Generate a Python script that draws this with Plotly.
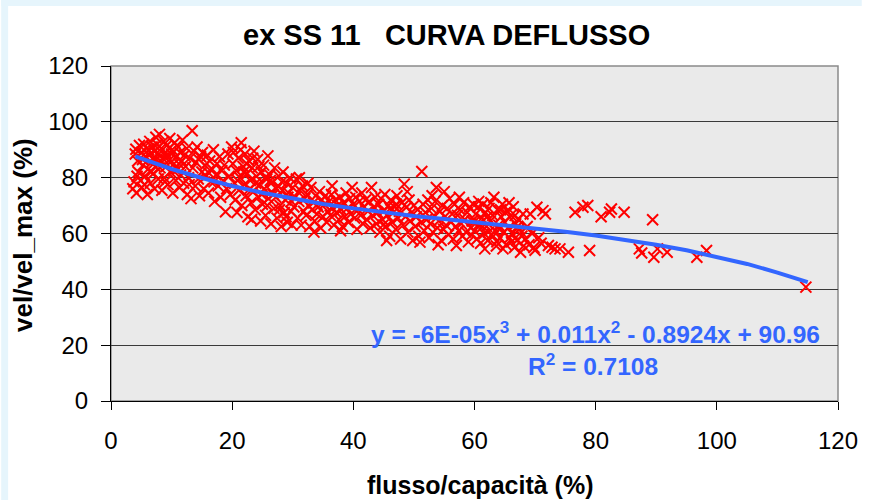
import plotly.graph_objects as go

# ---------------- data ----------------
FLOW_A = [3.6,3.8,4.0,4.1,4.2,4.4,4.5,4.7,4.9,5.0,5.1,5.3,5.4,5.6,5.7,5.9,6.0,6.1,6.3,6.4,
          6.5,6.7,6.8,7.0,7.1,7.2,7.4,7.5,7.6,7.8,7.9,8.0,8.1,8.3,8.4,8.5,8.7,8.8,9.0,9.1,
          9.2,9.4,9.5,9.7,9.8,10.0,10.1,10.2,10.4,10.5,10.7,10.8,11.0,11.1,11.3,11.4,11.5,11.7,11.8,12.0,
          4.3,5.2,6.2,6.9,7.3,8.2,8.9,9.6,10.3,11.2,12.1,6.6,7.7,9.3,5.5]
VEL_A = [76.0,78.5,88.5,90.2,74.5,86.0,82.0,91.5,79.0,89.0,76.5,84.5,92.0,80.5,87.5,90.5,74.0,83.0,88.0,93.0,
         78.0,85.5,91.0,81.5,89.5,76.0,94.5,86.5,92.0,79.5,88.5,95.5,83.5,90.5,75.5,87.0,93.0,80.0,89.0,84.0,
         91.5,77.5,86.0,94.0,82.0,88.5,90.0,74.5,85.0,92.5,79.0,87.5,83.0,91.0,76.5,89.0,81.0,86.0,93.5,78.0,
         80.5,86.5,90.0,87.0,84.0,86.0,78.5,90.5,82.5,85.0,88.0,82.0,90.5,87.5,77.5]

FLOW_B = [12.3,12.5,12.6,12.8,13.0,13.2,13.4,13.5,13.7,13.9,14.0,14.2,14.4,14.6,14.8,15.0,15.1,15.3,15.5,15.7,
          15.9,16.1,16.3,16.5,16.7,16.9,17.1,17.3,17.5,17.7,17.9,18.1,18.3,18.5,18.7,18.9,19.1,19.3,19.5,19.7,
          19.9,14.5,16.0,12.9,17.0]
VEL_B = [84.0,90.5,74.0,80.0,87.0,72.5,96.8,83.5,89.5,77.0,85.5,91.0,79.5,73.5,87.5,82.0,89.0,76.0,84.5,80.5,
         88.0,74.5,86.0,78.5,83.0,90.0,71.5,81.0,85.0,77.0,87.5,73.0,82.5,79.0,84.5,67.8,76.0,88.5,80.5,74.0,
         91.0,86.5,82.0,77.5,78.5]

FLOW_C = [20.1,20.2,20.4,20.5,20.7,20.8,21.0,21.1,21.3,21.5,21.6,21.8,22.0,22.1,22.3,22.5,22.6,22.8,23.0,23.1,
          23.3,23.5,23.6,23.8,24.0,24.2,24.3,24.5,24.7,24.8,25.0,25.2,25.3,25.5,25.7,25.9,26.0,26.2,26.4,26.5,
          26.7,26.9,27.0,27.2,27.4,27.6,27.7,27.9,28.1,28.3,28.4,28.6,28.8,29.0,29.1,29.3,29.5,29.7,29.8,30.0,
          20.9,21.9,22.9,23.9,24.9,25.8,26.8,27.8,28.9,29.9,21.4,22.4,23.4,24.4,25.4,26.3,27.3,28.2,29.2,23.2]
VEL_C = [85.0,89.0,78.0,72.0,82.5,67.5,87.0,75.5,80.0,92.5,70.0,84.0,77.5,88.5,73.5,81.5,66.0,86.0,79.0,71.0,
         83.5,75.0,89.5,68.5,80.5,86.5,73.0,77.5,64.5,82.0,70.5,84.5,76.0,66.5,79.5,87.8,72.5,81.0,63.5,75.0,
         78.5,69.0,83.5,73.0,65.5,77.0,80.5,70.0,62.5,75.5,82.0,67.5,72.0,78.0,64.0,74.5,80.0,68.0,71.5,76.5,
         79.0,82.0,76.0,78.0,74.0,70.0,74.0,68.5,66.0,63.0,90.0,85.0,87.0,84.0,80.0,79.0,76.0,78.5,73.0,65.0]

FLOW_D = [30.2,30.4,30.6,30.8,31.0,31.2,31.4,31.6,31.8,32.0,32.2,32.4,32.6,32.8,33.0,33.2,33.4,33.6,33.8,34.0,
          34.2,34.4,34.6,34.8,35.0,35.2,35.4,35.6,35.8,36.0,36.2,36.4,36.6,36.8,37.0,37.2,37.4,37.6,37.8,38.0,
          38.2,38.4,38.6,38.8,39.0,39.2,39.4,39.6,39.8,40.0,40.2,40.4,40.6,40.8,41.0,41.2,41.4,41.6,41.8,42.0,
          31.1,32.5,36.5,37.9,33.5]
VEL_D = [69.5,73.0,79.5,65.5,71.5,75.5,63.0,77.0,68.0,72.5,66.5,74.0,70.0,62.5,76.5,68.5,71.0,64.5,73.5,67.0,
         69.5,75.0,62.0,72.0,66.0,70.5,73.5,64.0,68.0,71.5,66.5,74.0,69.0,63.0,72.0,67.5,70.0,65.0,73.0,68.5,
         62.5,71.0,66.0,74.5,69.0,64.0,72.5,67.0,76.5,70.5,65.5,73.0,61.5,68.5,71.5,66.5,74.5,63.5,69.5,72.0,
         80.0,78.0,77.0,61.0,60.5]

FLOW_E = [42.2,42.4,42.6,42.8,43.0,43.2,43.4,43.6,43.8,44.0,44.2,44.4,44.6,44.8,45.0,45.2,45.4,45.6,45.8,46.0,
          46.2,46.4,46.6,46.8,47.0,47.2,47.4,47.6,47.8,48.0,48.2,48.4,48.6,48.8,49.0,49.2,49.4,49.6,49.8,50.0,
          44.9,46.1,47.1,48.9,45.5]
VEL_E = [65.0,68.0,71.5,62.0,76.5,66.5,69.5,73.0,63.5,67.5,70.5,60.5,72.5,65.0,68.0,74.0,62.5,66.5,70.0,59.0,
         72.0,64.0,67.5,69.5,61.5,73.5,65.5,68.0,58.0,71.0,63.0,77.7,66.0,69.5,60.5,72.0,64.5,67.5,57.5,70.0,
         63.0,69.0,70.5,75.0,57.5]

FLOW_F = [50.2,50.4,50.6,50.8,51.0,51.2,51.3,51.5,51.7,51.9,52.1,52.3,52.5,52.7,52.9,53.1,53.3,53.5,53.7,53.9,
          54.1,54.3,54.5,54.7,54.9,55.1,55.3,55.5,55.7,55.9,56.1,56.3,56.5,56.7,56.9,57.0,57.2,57.4,57.6,57.8,
          58.0,58.2,58.4,58.6,58.8,59.0,59.2,59.4,59.6,59.8,53.0,55.0,57.5,59.5,54.0]
VEL_F = [62.5,66.0,68.5,59.0,56.9,64.0,82.2,70.5,61.0,67.5,65.0,72.0,58.5,63.5,69.0,60.5,66.5,71.5,76.5,62.0,
         64.5,68.0,57.5,70.0,61.5,66.0,63.0,69.0,59.5,72.5,64.0,67.0,58.0,70.5,62.5,55.7,66.5,61.0,68.5,63.5,
         59.0,71.0,65.0,60.5,67.5,57.0,69.5,62.0,64.5,70.5,73.5,75.0,73.0,59.5,56.0]

FLOW_G = [60.0,60.2,60.4,60.6,60.8,61.0,61.2,61.4,61.6,61.8,62.0,62.2,62.4,62.6,62.8,63.0,63.2,63.4,63.6,63.8,
          64.0,64.2,64.4,64.6,64.8,65.0,65.2,65.4,65.6,65.8,66.0,66.2,66.4,66.6,66.8,67.0,67.2,67.4,67.6,67.8,
          68.0,60.1,61.1,62.1,63.1,64.1,65.1,66.1,67.1,68.1,60.7,61.7,62.7,63.7,64.7,65.7,66.7,67.7,62.3,64.3]
VEL_G = [61.0,67.0,58.0,69.5,63.5,56.5,65.5,70.5,60.0,67.5,62.5,57.5,69.0,64.5,59.5,66.5,73.0,61.0,55.5,68.5,
         63.0,58.5,66.0,70.5,60.5,64.0,56.0,68.0,62.0,58.5,66.5,60.0,69.6,55.0,63.5,57.5,65.0,61.5,53.3,59.0,
         67.0,64.5,62.0,66.0,59.0,61.5,67.5,57.0,62.5,55.5,71.5,54.5,71.0,57.0,54.5,71.0,66.5,60.5,60.5,68.5]

FLOW_H = [68.4,68.7,69.0,69.2,69.5,69.8,70.0,70.3,70.6,71.0,71.3,71.7,72.2,72.8,73.3,74.1,75.5,76.6,77.9,78.7,
          79.0,80.9,82.3,82.6,84.7,87.2,87.6,89.4,89.6,90.2,91.8,96.7,98.3,114.7]
VEL_H = [58.0,62.5,56.0,67.0,60.0,55.0,54.0,69.4,58.5,56.5,68.2,67.0,55.7,55.1,54.5,54.5,53.3,67.6,69.4,70.0,
         53.9,66.0,67.6,68.8,67.6,54.5,53.0,64.9,51.5,54.5,53.3,51.5,53.9,40.8]

FLOW = FLOW_A + FLOW_B + FLOW_C + FLOW_D + FLOW_E + FLOW_F + FLOW_G + FLOW_H
VEL = VEL_A + VEL_B + VEL_C + VEL_D + VEL_E + VEL_F + VEL_G + VEL_H

TREND_X = [4, 5, 10, 15, 20, 25, 30, 35, 40, 45, 50, 55, 60, 65, 70, 75, 80, 85, 90, 95, 100, 105, 110, 115]
TREND_Y = [87.6, 86.8, 83.1, 79.9, 77.0, 74.6, 72.5, 70.6, 69.0, 67.6, 66.3, 65.2, 64.1, 63.0, 61.8, 60.6,
           59.3, 57.7, 56.0, 54.0, 51.7, 49.1, 46.0, 42.6]

X_TICKS = [0, 20, 40, 60, 80, 100, 120]
Y_TICKS = [0, 20, 40, 60, 80, 100, 120]
GRID_VALUES = [20, 40, 60, 80, 100]

TITLE = "ex SS 11\u00a0\u00a0\u00a0CURVA DEFLUSSO"
X_TITLE = "flusso/capacità (%)"
Y_TITLE = "vel/vel_max (%)"
EQ_TEXT = "y = -6E-05x<sup>3</sup> + 0.011x<sup>2</sup> - 0.8924x + 90.96"
R2_TEXT = "R<sup>2</sup> = 0.7108"

# ---------------- figure ----------------
FONT = "Liberation Sans, Arial, sans-serif"
BLUE = "#3366FF"
L, R, T, B = 111, 24, 66, 99
W, H = 870, 500
PW, PH = W - L - R, H - T - B


def px(xp):
    return (xp - L) / PW


def py(yp):
    return (H - B - yp) / PH


fig = go.Figure()
fig.add_trace(go.Scatter(
    x=FLOW, y=VEL, mode="markers",
    marker=dict(symbol="x-thin", size=11, color="#FF0000",
                line=dict(color="#FF0000", width=2)),
    showlegend=False, hoverinfo="skip"))
fig.add_trace(go.Scatter(
    x=TREND_X, y=TREND_Y, mode="lines",
    line=dict(color=BLUE, width=4), showlegend=False, hoverinfo="skip"))

fig.update_layout(
    width=W, height=H,
    margin=dict(l=L, r=R, t=T, b=B, pad=0),
    paper_bgcolor="white",
    plot_bgcolor="#EAEAEA",
    font=dict(family=FONT, size=24, color="black"),
    showlegend=False,
)
fig.update_xaxes(
    range=[0, 120], tickvals=X_TICKS, ticktext=[str(v) for v in X_TICKS],
    showgrid=False, zeroline=False,
    showline=True, linecolor="black", linewidth=1,
    ticks="outside", ticklen=8, tickcolor="black", tickwidth=1,
    ticklabelstandoff=10,
    tickfont=dict(family=FONT, size=24, color="black"),
)
fig.update_yaxes(
    range=[0, 120], tickvals=Y_TICKS, ticktext=[str(v) for v in Y_TICKS],
    showgrid=False, zeroline=False,
    showline=True, linecolor="black", linewidth=1,
    ticks="outside", ticklen=9, tickcolor="black", tickwidth=1,
    ticklabelstandoff=8,
    tickfont=dict(family=FONT, size=24, color="black"),
)
# grid-only overlay axis (interior gridlines)
fig.update_layout(yaxis2=dict(
    overlaying="y", range=[0, 120], tickvals=GRID_VALUES, showticklabels=False,
    showgrid=True, gridcolor="#3a3a3a", gridwidth=1, zeroline=False,
    showline=False, ticks=""))
fig.add_trace(go.Scatter(x=[None], y=[None], yaxis="y2", showlegend=False, hoverinfo="skip"))

shapes = [
    dict(type="rect", xref="paper", yref="paper", x0=0, x1=1, y0=0, y1=1,
         line=dict(color="#8a8a8a", width=1.5), fillcolor="rgba(0,0,0,0)", layer="below"),
    dict(type="rect", xref="paper", yref="paper", x0=px(0), x1=px(7), y0=py(H), y1=py(0),
         line=dict(width=0), fillcolor="#E6F5FC", layer="below"),
    dict(type="rect", xref="paper", yref="paper", x0=px(0), x1=px(W), y0=py(6), y1=py(0),
         line=dict(width=0), fillcolor="#E6F5FC", layer="below"),
]
fig.update_layout(shapes=shapes)

annotations = [
    dict(text=TITLE, x=px(450), y=py(35), xref="paper", yref="paper",
         xanchor="center", yanchor="middle", showarrow=False,
         font=dict(family=FONT, size=29, color="black", weight="bold")),
    dict(text=X_TITLE, x=px(484), y=py(485), xref="paper", yref="paper",
         xanchor="center", yanchor="middle", showarrow=False,
         font=dict(family=FONT, size=25, color="black", weight="bold")),
    dict(text=Y_TITLE, x=px(22), y=py(235), xref="paper", yref="paper",
         xanchor="center", yanchor="middle", showarrow=False, textangle=-90,
         font=dict(family=FONT, size=26, color="black", weight="bold")),
    dict(text=EQ_TEXT, x=px(830), y=py(332), xref="paper", yref="paper",
         xanchor="right", yanchor="middle", showarrow=False,
         font=dict(family=FONT, size=24.5, color=BLUE, weight="bold")),
    dict(text=R2_TEXT, x=px(666), y=py(364), xref="paper", yref="paper",
         xanchor="right", yanchor="middle", showarrow=False,
         font=dict(family=FONT, size=24.5, color=BLUE, weight="bold")),
]
fig.update_layout(annotations=annotations)

fig.write_html("out.html")
